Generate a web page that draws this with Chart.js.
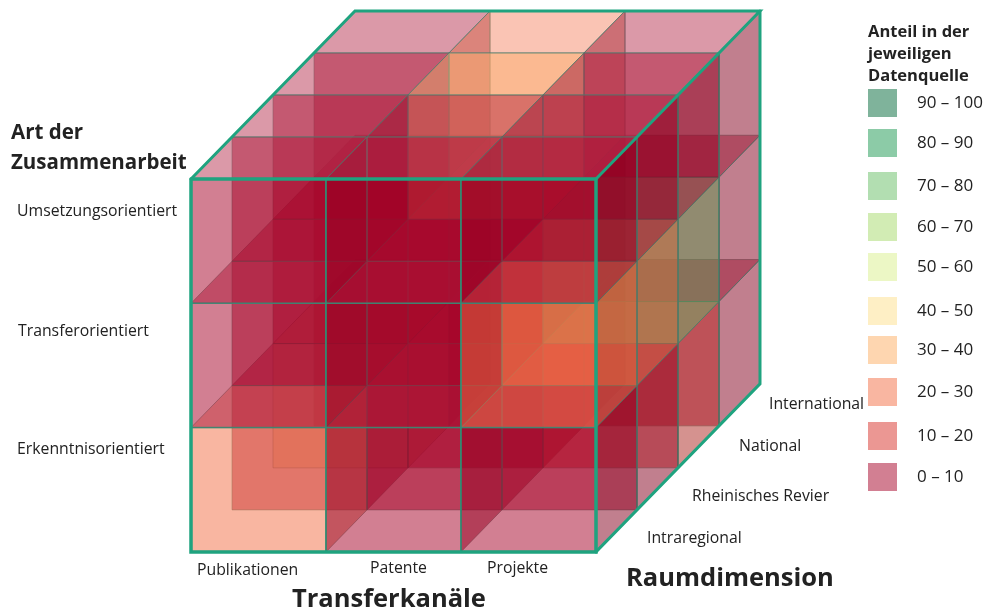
<!DOCTYPE html>
<html lang="de">
<head>
<meta charset="utf-8">
<title>Transferkanäle</title>
<script src="https://cdn.jsdelivr.net/npm/chart.js@4"></script>
<style>
  html, body { margin: 0; padding: 0; background: #fff; }
  canvas { display: block; filter: blur(0.4px); }
</style>
</head>
<body>
<canvas id="cube" width="987" height="614"></canvas>
<script>
// ---- DATA (share in %, read per legend class) ----
const channels = ["Publikationen", "Patente", "Projekte"];
const cooperation = ["Umsetzungsorientiert", "Transferorientiert", "Erkenntnisorientiert"];
const regions = ["Intraregional", "Rheinisches Revier", "National", "International"];

// rows: cooperation, columns: channels
const intraregional = [[5, 5, 5], [5, 5, 25], [25, 5, 5]];
const rheinisch     = [[5, 5, 5], [5, 5, 25], [5, 5, 5]];
const nationalShare = [[5, 35, 5], [5, 5, 75], [45, 5, 15]];
const international = [[5, 25, 5], [5, 5, 5], [5, 5, 5]];
const layers = [intraregional, rheinisch, nationalShare, international];

const legendLabels = ["90 – 100", "80 – 90", "70 – 80", "60 – 70", "50 – 60", "40 – 50", "30 – 40", "20 – 30", "10 – 20", "0 – 10"];
// lowest class first
const classColors = ["#a50026", "#d73027", "#f46d43", "#fdae61", "#fee08b", "#d9ef8b", "#a6d96a", "#66bd63", "#1a9850", "#006837"];

// ---- COLOUR HELPERS ----
const ALPHA = 0.5;
function rgb(hex) {
  return [1, 3, 5].map(i => parseInt(hex.slice(i, i + 2), 16));
}
function classColor(v) { return rgb(classColors[Math.min(9, Math.floor(v / 10))]); }
function css(c, a) { return `rgba(${c.map(Math.round).join(",")},${a})`; }
function lighter(c) { return c.map(x => x + (255 - x) * 0.2); }
function darker(c) { return c.map(x => x * 0.8); }

// ---- PROJECTION: column / row / depth -> scale values ----
const DX = 0.3037, DY = 0.338;
function pt(c, r, d) { return { x: c + d * DX, y: r - d * DY }; }

const edge = "rgba(70,125,110,0.5)";
const teal = "#1fa37f";
function poly(points, color) {
  return { data: points.concat(points[0]), showLine: true, fill: "shape", backgroundColor: color,
           borderColor: edge, borderWidth: 1, pointRadius: 0, tension: 0, clip: false };
}
function line(points, width, color) {
  return { data: points, showLine: true, fill: false, borderColor: color || teal, borderWidth: width,
           pointRadius: 0, tension: 0, clip: false, borderCapStyle: "round" };
}

// back to front and bottom row first, each cell is a translucent box with front, top and right face
const painted = [];
for (let d = regions.length - 1; d >= 0; d--) {
  for (let r = cooperation.length - 1; r >= 0; r--) {
    for (let c = 0; c < channels.length; c++) {
      const base = classColor(layers[d][r][c]);
      painted.push(poly([pt(c, r, d), pt(c + 1, r, d), pt(c + 1, r + 1, d), pt(c, r + 1, d)], css(base, ALPHA)));
      painted.push(poly([pt(c, r, d), pt(c + 1, r, d), pt(c + 1, r, d + 1), pt(c, r, d + 1)], css(lighter(base), ALPHA)));
      painted.push(poly([pt(c + 1, r, d), pt(c + 1, r, d + 1), pt(c + 1, r + 1, d + 1), pt(c + 1, r + 1, d)], css(darker(base), ALPHA)));
    }
  }
}
const W = channels.length, H = cooperation.length, D = regions.length;
// outline of the cube
painted.push(line([pt(0, 1, 0), pt(W, 1, 0)], 1.5, "rgba(60,135,115,0.85)"));
painted.push(line([pt(0, 2, 0), pt(W, 2, 0)], 1.5, "rgba(60,135,115,0.85)"));
painted.push(line([pt(1, 0, 0), pt(1, H, 0)], 1.5, "rgba(40,150,120,0.9)"));
painted.push(line([pt(2, 0, 0), pt(2, H, 0)], 1.5, "rgba(40,150,120,0.9)"));
painted.push(line([pt(0, 0, 0), pt(W, 0, 0), pt(W, H, 0), pt(0, H, 0), pt(0, 0, 0)], 3.5));
painted.push(line([pt(0, 0, 0), pt(0, 0, D), pt(W, 0, D), pt(W, 0, 0)], 3));
painted.push(line([pt(W, 0, D), pt(W, H, D), pt(W, H, 0)], 3));

// ---- TEXT + LEGEND ----
const sans = '"Open Sans", "Noto Sans", sans-serif';
const texts = [
  ["Art der", 11, 133, "bold 20.5px " + sans],
  ["Zusammenarbeit", 11, 163, "bold 20.5px " + sans],
  [cooperation[0], 17, 211, "15.8px " + sans],
  [cooperation[1], 18, 331, "15.8px " + sans],
  [cooperation[2], 17, 449, "15.8px " + sans],
  [channels[0], 197, 570, "15.8px " + sans],
  [channels[1], 370, 568, "15.8px " + sans],
  [channels[2], 487, 568, "15.8px " + sans],
  ["Transferkanäle", 292, 600, "bold 25.5px " + sans],
  ["Raumdimension", 626, 579, "bold 25.5px " + sans],
  [regions[0], 647, 538, "15.8px " + sans],
  [regions[1], 692, 496, "15.8px " + sans],
  [regions[2], 739, 446, "15.8px " + sans],
  [regions[3], 769, 404, "15.8px " + sans],
  ["Anteil in der", 868, 32, "bold 16.5px " + sans],
  ["jeweiligen", 868, 54, "bold 16.5px " + sans],
  ["Datenquelle", 868, 76, "bold 16.5px " + sans]
];
const swatchTop = [89, 129, 172, 213, 253, 297, 336, 378, 422, 463];

const labelPlugin = {
  id: "labels",
  afterDraw(chart) {
    const ctx = chart.ctx;
    ctx.save();
    ctx.textBaseline = "middle";
    ctx.fillStyle = "#222";
    texts.forEach(([t, x, y, font]) => {
      ctx.font = font;
      ctx.fillText(t, x, y);
    });
    legendLabels.forEach((label, i) => {
      ctx.fillStyle = css(rgb(classColors[9 - i]), ALPHA);
      ctx.fillRect(868, swatchTop[i], 29, 28);
      ctx.fillStyle = "#222";
      ctx.font = "17px " + sans;
      ctx.fillText(label, 917, swatchTop[i] + 14);
    });
    ctx.restore();
  }
};

// Chart.js paints the first dataset on top, so hand them over reversed
new Chart(document.getElementById("cube"), {
  type: "scatter",
  data: { datasets: painted.slice().reverse() },
  options: {
    responsive: false,
    animation: false,
    layout: { padding: 0 },
    events: [],
    plugins: { legend: { display: false }, tooltip: { enabled: false } },
    scales: {
      x: { type: "linear", display: false, min: -191 / 135, max: 796 / 135 },
      y: { type: "linear", display: false, reverse: true, min: -179 / 124.3, max: 435 / 124.3 }
    }
  },
  plugins: [labelPlugin]
});
</script>
</body>
</html>
